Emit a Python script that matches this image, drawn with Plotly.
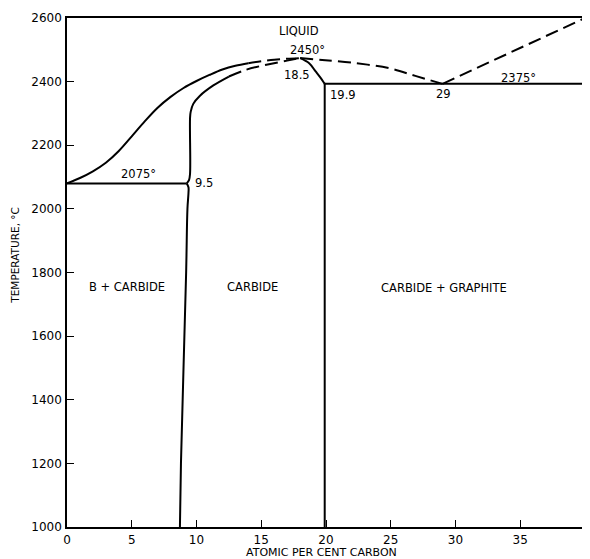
import plotly.graph_objects as go

# ---- data (atomic % carbon, temperature °C) ----
x_ticks = [0, 5, 10, 15, 20, 25, 30, 35, 40]
y_ticks = [1000, 1200, 1400, 1600, 1800, 2000, 2200, 2400, 2600]

outer_solid_x = [0, 1.0, 2.0, 3.0, 4.0, 5.0, 6.0, 7.0, 8.0, 9.0, 10.0, 11.0, 12.0, 13.0, 14.0]
outer_solid_t = [2080, 2097, 2118, 2145, 2182, 2228, 2275, 2318, 2352, 2380, 2402, 2421, 2438, 2450, 2458]
outer_dash_x = [14.0, 15.0, 16.0, 17.0, 18.0]
outer_dash_t = [2458, 2464, 2469, 2472, 2474]

inner_solid_x = [9.25, 9.42, 9.5, 9.5, 9.55, 9.75, 10.25, 11.3, 12.5]
inner_solid_t = [2080, 2090, 2110, 2285, 2305, 2330, 2355, 2388, 2416]
inner_dash_x = [12.5, 13.8, 15.4, 17.0, 18.0]
inner_dash_t = [2416, 2437, 2453, 2466, 2474]

peak_right_x = [18.0, 18.7, 19.2, 19.6, 19.85, 19.9]
peak_right_t = [2474, 2458, 2432, 2411, 2396, 2393]

carbide_limit_x = [19.9, 19.9]
carbide_limit_t = [2393, 1000]

eutectic_x = [0, 9.25]
eutectic_t = [2080, 2080]

lower_boundary_x = [9.25, 9.38, 9.38, 9.3, 9.2, 8.8, 8.72]
lower_boundary_t = [2080, 2068, 2050, 2000, 1800, 1200, 1000]

graphite_eut_x = [19.9, 40]
graphite_eut_t = [2393, 2393]

liq_right_x = [18.0, 19.7, 22.3, 24.9, 26.9, 29.0]
liq_right_t = [2474, 2468, 2458, 2442, 2418, 2393]

graphite_liq_x = [29, 40]
graphite_liq_t = [2393, 2600]

label_text = ["LIQUID", "2450°", "18.5", "19.9", "29", "2375°", "2075°", "9.5",
              "B + CARBIDE", "CARBIDE", "CARBIDE + GRAPHITE"]
label_x = [17.95, 18.6, 17.75, 21.3, 29.1, 34.9, 5.5, 10.6, 4.6, 14.3, 29.1]
label_t = [2560, 2499, 2421, 2358, 2360, 2410, 2110, 2081, 1754, 1754, 1752]

# ---- figure ----
FONT = "DejaVu Sans"
solid = dict(color="black", width=2)
dashed = dict(color="black", width=2, dash="13px,6px")

fig = go.Figure()
for xs, ts, ln, shape in [
    (outer_solid_x, outer_solid_t, solid, "spline"),
    (outer_dash_x, outer_dash_t, dashed, "spline"),
    (inner_solid_x, inner_solid_t, solid, "spline"),
    (inner_dash_x, inner_dash_t, dashed, "spline"),
    (peak_right_x, peak_right_t, solid, "spline"),
    (carbide_limit_x, carbide_limit_t, solid, "linear"),
    (eutectic_x, eutectic_t, solid, "linear"),
    (lower_boundary_x, lower_boundary_t, solid, "spline"),
    (graphite_eut_x, graphite_eut_t, solid, "linear"),
    (liq_right_x, liq_right_t, dashed, "spline"),
    (graphite_liq_x, graphite_liq_t, dashed, "linear"),
]:
    fig.add_trace(go.Scatter(x=xs, y=ts, mode="lines", line=ln,
                             line_shape=shape, showlegend=False, hoverinfo="skip"))

for txt, lx, lt in zip(label_text, label_x, label_t):
    fig.add_annotation(x=lx, y=lt, text=txt, showarrow=False,
                       xanchor="center", yanchor="middle",
                       font=dict(family=FONT, size=11.5, color="black"))

fig.add_annotation(xref="paper", yref="paper", x=0.492, y=-0.051,
                   xanchor="center", yanchor="middle",
                   text="ATOMIC PER CENT CARBON", showarrow=False,
                   font=dict(family=FONT, size=11, color="black"))
fig.add_annotation(xref="paper", yref="paper", x=-0.0994, y=0.534,
                   xanchor="center", yanchor="middle",
                   text="TEMPERATURE, °C", showarrow=False, textangle=-90,
                   font=dict(family=FONT, size=10.5, color="black"))

axis_common = dict(showgrid=False, zeroline=False, showline=True, mirror=True,
                   linecolor="black", linewidth=1.5, ticks="inside", ticklen=7,
                   tickcolor="black", tickwidth=1.2,
                   tickfont=dict(family=FONT, size=12, color="black"))
fig.update_xaxes(range=[0, 40], tickvals=x_ticks, ticklabelstandoff=1, **axis_common)
fig.update_yaxes(range=[1000, 2600], tickvals=y_ticks, ticklabelstandoff=1, **axis_common)

# page body has an 8px margin, so the figure is offset by 8px
fig.update_layout(width=582, height=551, plot_bgcolor="white", paper_bgcolor="white",
                  margin=dict(l=59, r=3, t=10, b=32), showlegend=False)

fig.write_html("out.html", config={"displayModeBar": False})
